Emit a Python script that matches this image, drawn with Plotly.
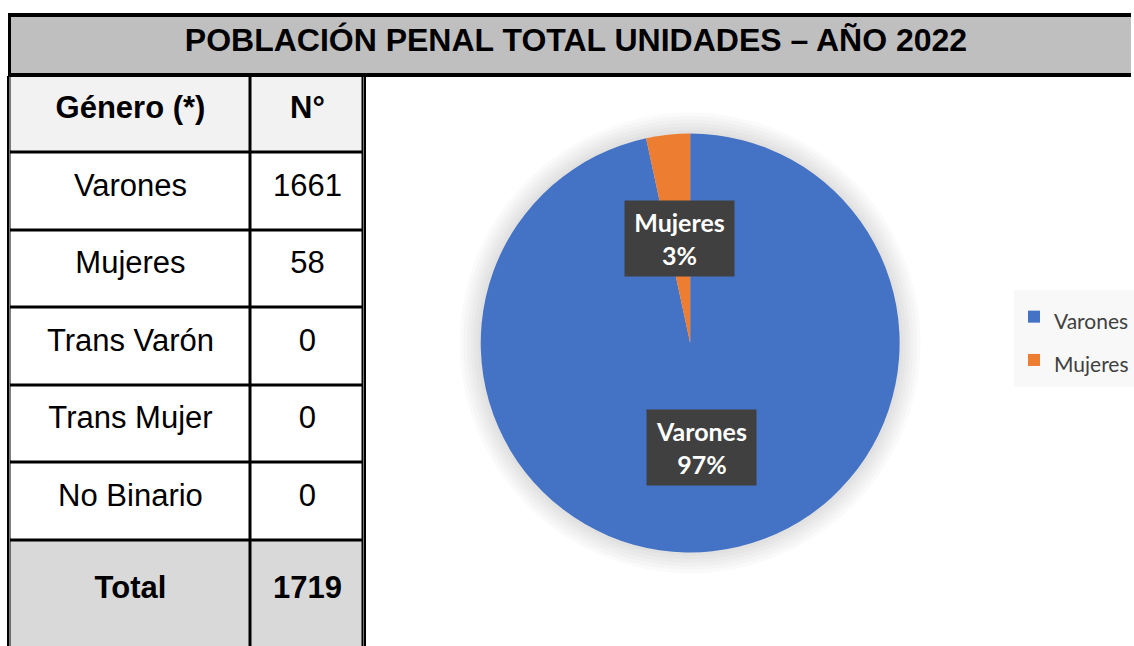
import math
import plotly.graph_objects as go

# datos
titulo = "POBLACIÓN PENAL TOTAL UNIDADES – AÑO 2022"
encabezados = ["Género (*)", "N°"]
generos = ["Varones", "Mujeres", "Trans Varón", "Trans Mujer", "No Binario"]
cantidades = [1661, 58, 0, 0, 0]
etiqueta_total = "Total"
total = sum(cantidades)

W, H = 1134, 646
FUENTE_TABLA = "Liberation Sans, Arial, sans-serif"
FUENTE_GRAF = "Lato, Calibri, sans-serif"

def px_x(p):
    return p / W

def px_y(p):
    return 1 - p / H

# tabla como mapa de celdas
filas_txt = [[f"<b>{encabezados[0]}</b>", f"<b>{encabezados[1]}</b>"]]
filas_z = [[1, 1]]
for g, c in zip(generos, cantidades):
    filas_txt.append([g, str(c)])
    filas_z.append([0, 0])
filas_txt.append([f"<b>{etiqueta_total}</b>", f"<b>{total}</b>"])
filas_z.append([2, 2])

bordes_x = [0, 242, 355]
bordes_y = [75.5, 152.5, 230.5, 307.5, 385.5, 462.5, 540.5, 648]
subir_texto = 6.5  # el texto de Excel queda un poco arriba del centro

fig = go.Figure()

# relleno de celdas
fig.add_trace(go.Heatmap(
    x=bordes_x, y=bordes_y, z=filas_z,
    colorscale=[[0, "#FFFFFF"], [0.5, "#F2F2F2"], [1, "#D9D9D9"]],
    zmin=0, zmax=2, showscale=False, xgap=3, ygap=3,
    hoverinfo="skip", xaxis="x", yaxis="y",
))
# texto de celdas
fig.add_trace(go.Heatmap(
    x=bordes_x, y=[b - subir_texto for b in bordes_y], z=filas_z, text=filas_txt,
    texttemplate="%{text}",
    textfont=dict(family=FUENTE_TABLA, size=31, color="black"),
    colorscale=[[0, "rgba(0,0,0,0)"], [1, "rgba(0,0,0,0)"]],
    zmin=0, zmax=2, showscale=False, hoverinfo="skip", xaxis="x", yaxis="y",
))

# banda del titulo
fig.add_trace(go.Heatmap(
    x=[0, 1132], y=[0, 66], z=[[0]], text=[[f"<b>{titulo}</b>"]],
    texttemplate="%{text}",
    textfont=dict(family=FUENTE_TABLA, size=32, color="black"),
    colorscale=[[0, "#BFBFBF"], [1, "#BFBFBF"]],
    showscale=False, hoverinfo="skip", xaxis="x2", yaxis="y2",
))

# grafico de torta
lab_pie = [g for g, c in zip(generos, cantidades) if c > 0]
val_pie = [c for c in cantidades if c > 0]
cx, cy, r = 692, 343, 210

# sombra suave alrededor de la torta
for k in range(1, 7):
    rs = r + 3.5 * k
    fig.add_trace(go.Pie(
        labels=["sombra"], values=[1], sort=False, showlegend=False,
        marker=dict(colors=["rgba(0,0,0,0.02)"], line=dict(width=0)),
        textinfo="none", hoverinfo="skip",
        domain=dict(x=[px_x(cx - rs), px_x(cx + rs)], y=[px_y(cy + rs), px_y(cy - rs)]),
    ))

# el span reduce el texto de la leyenda; la fuente grande separa los items
fig.add_trace(go.Pie(
    labels=[f"<span style='font-size:21px'>{g}</span>" for g in lab_pie],
    values=val_pie, sort=False, direction="clockwise", rotation=0,
    marker=dict(colors=["#4472C4", "#ED7D31"], line=dict(width=0)),
    textinfo="none", hoverinfo="percent",
    domain=dict(x=[px_x(cx - r), px_x(cx + r)], y=[px_y(cy + r), px_y(cy - r)]),
))

# etiquetas de datos
acum = 0
for g, v in zip(lab_pie, val_pie):
    ang = 2 * math.pi * (acum + v / 2) / sum(val_pie)
    acum += v
    xl = cx + 0.5 * r * math.sin(ang)
    yl = cy - 0.5 * r * math.cos(ang)
    pct = round(100 * v / sum(val_pie))
    fig.add_annotation(
        x=px_x(xl), y=px_y(yl), xref="paper", yref="paper",
        text=f"<b>{g}<br>{pct}%</b>", showarrow=False,
        font=dict(family=FUENTE_GRAF, size=25, color="white"),
        bgcolor="#404040", width=105, height=71, borderpad=2,
        xanchor="center", yanchor="middle",
    )

ejes_ocultos = dict(showticklabels=False, ticks="", showgrid=False, zeroline=False)

fig.update_layout(
    width=W, height=H, margin=dict(l=0, r=0, t=0, b=0),
    paper_bgcolor="white", plot_bgcolor="black",
    xaxis=dict(domain=[px_x(9.5), px_x(364.5)], range=[0, 355], showline=False, **ejes_ocultos),
    yaxis=dict(domain=[0, px_y(75.5)], range=[646, 75.5], showline=True, mirror=True,
               linecolor="black", linewidth=2, **ejes_ocultos),
    xaxis2=dict(domain=[px_x(11), 1], range=[0, 1123], showline=True, mirror=True,
                linecolor="black", linewidth=3.5, anchor="y2", **ejes_ocultos),
    yaxis2=dict(domain=[px_y(73), px_y(17)], range=[0, 56], showline=True, mirror=False,
                linecolor="black", linewidth=3, anchor="x2", **ejes_ocultos),
    legend=dict(x=px_x(1017), y=px_y(290), xanchor="left", yanchor="top",
                bgcolor="#F8F8F8", font=dict(family=FUENTE_GRAF, size=31, color="#404040"),
                itemsizing="constant"),
    showlegend=True,
)

fig.write_html(
    "out.html",
    config={"displayModeBar": False},
    post_script="document.body.style.margin='0';document.body.style.overflow='hidden';",
)
